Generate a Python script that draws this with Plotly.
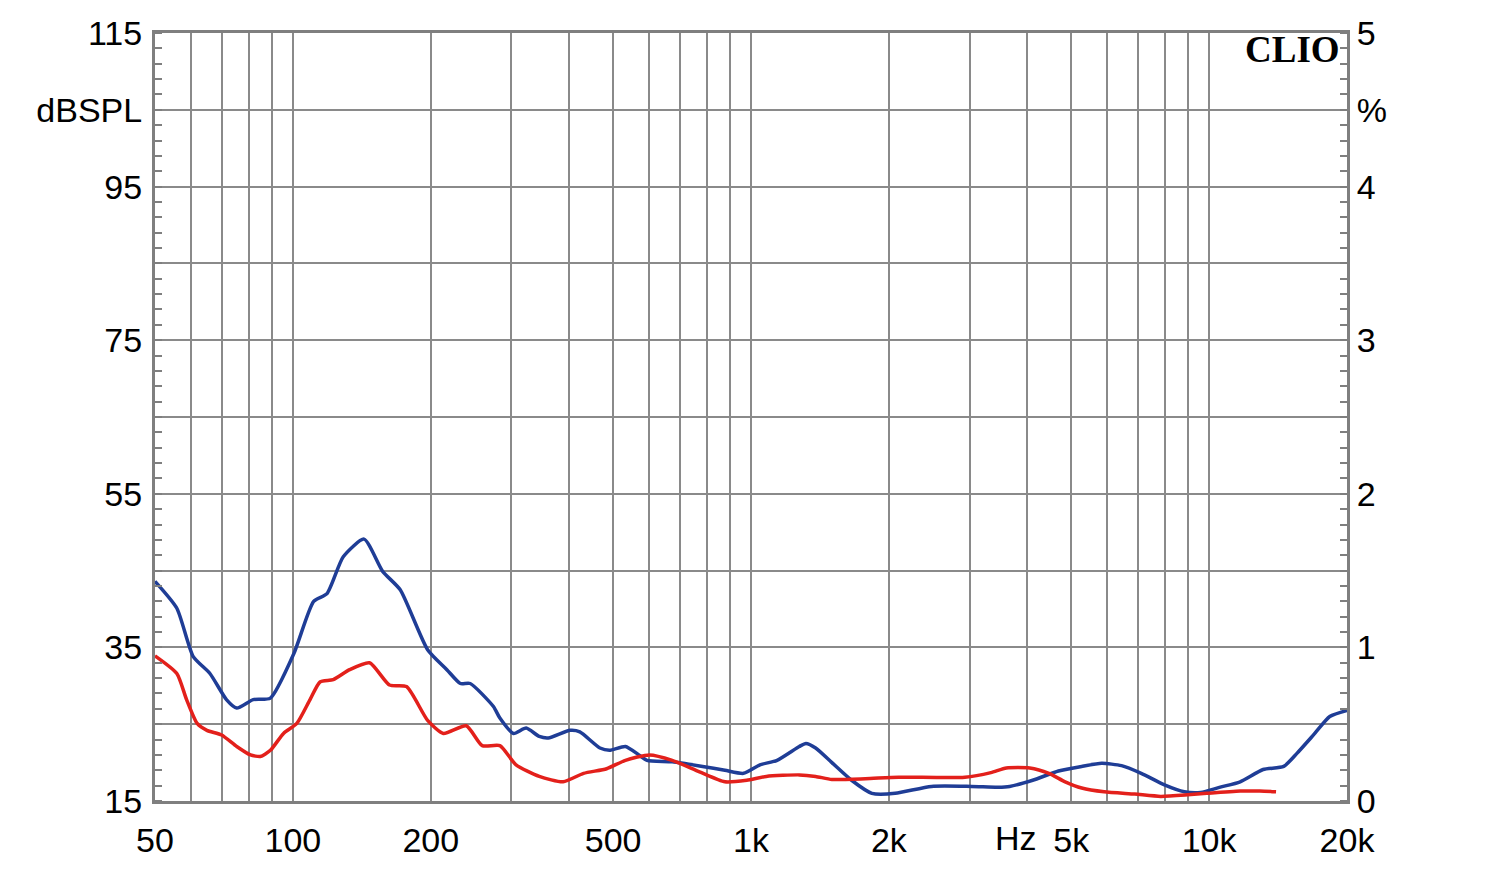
import math
import plotly.graph_objects as go

# ---- data ----
blue_f = [50, 55.8, 60.6, 65.9, 71.6, 75.4, 81.9, 89.3, 100.5, 111, 118.7, 128.8, 143, 157, 171.5,
          196.8, 216.8, 232, 243.8, 274, 283, 303, 323, 345, 361, 403, 423, 468, 491, 532, 569, 593,
          673, 784, 877, 963, 1046, 1140, 1275, 1318, 1384, 1502, 1658, 1836, 2064, 2477, 3028, 3460,
          3670, 4120, 4690, 5270, 5830, 6440, 7110, 7990, 8830, 9580, 10580, 11690, 13120, 14550,
          15550, 16900, 18340, 20000]
blue_v = [43.6, 40.1, 33.8, 31.6, 28.2, 27.1, 28.2, 28.4, 34.2, 41.0, 42.0, 46.8, 49.1, 44.9, 42.5,
          34.7, 32.1, 30.3, 30.3, 27.3, 25.8, 23.8, 24.5, 23.4, 23.2, 24.2, 24.0, 21.9, 21.6, 22.1, 21.0, 20.3,
          20.1, 19.5, 19.0, 18.6, 19.7, 20.3, 22.1, 22.5, 21.9, 20.0, 17.7, 16.0, 16.0, 16.9, 16.9, 16.8,
          16.9, 17.7, 18.9, 19.5, 19.9, 19.6, 18.6, 17.1, 16.2, 16.1, 16.8, 17.5, 19.1, 19.5,
          21.2, 23.6, 26.0, 26.8]

red_f = [50, 55.8, 58.6, 61.8, 64.9, 69.9, 75.4, 80.8, 84.9, 89.3, 95.4, 102, 109, 114.6, 122.5, 133,
         147, 162.5, 177, 196.8, 213, 239, 259, 283, 307, 345, 389, 431, 484, 532, 600, 673, 772, 877,
         979, 1080, 1275, 1384, 1502, 1777, 2100, 2930, 3340, 3610, 4060, 4470, 4850, 5270, 5900, 6880,
         7840, 8980, 9880, 11690, 12900, 14000]
red_v = [33.9, 31.6, 28.2, 25.1, 24.2, 23.6, 22.1, 21.0, 20.8, 21.6, 23.8, 25.1, 28.2, 30.5, 30.8, 32.1,
         33.0, 30.1, 29.9, 25.5, 23.8, 24.8, 22.2, 22.2, 19.7, 18.2, 17.5, 18.6, 19.2, 20.3, 21.0, 20.3, 18.8, 17.5,
         17.7, 18.2, 18.4, 18.2, 17.8, 17.9, 18.1, 18.1, 18.7, 19.3, 19.3, 18.6, 17.5, 16.7, 16.2, 15.9,
         15.6, 15.8, 16.0, 16.3, 16.3, 16.2]

x_grid = [50, 60, 70, 80, 90, 100, 200, 300, 400, 500, 600, 700, 800, 900, 1000,
          2000, 3000, 4000, 5000, 6000, 7000, 8000, 9000, 10000, 20000]
x_labels = {50: "50", 100: "100", 200: "200", 500: "500", 1000: "1k", 2000: "2k",
            5000: "5k", 10000: "10k", 20000: "20k"}
y_grid = [15, 25, 35, 45, 55, 65, 75, 85, 95, 105, 115]
y_labels = {15: "15", 35: "35", 55: "55", 75: "75", 95: "95", 105: "dBSPL", 115: "115"}
y2_ticks = [0, 1, 2, 3, 4, 4.5, 5]
y2_text = ["0", "1", "2", "3", "4", "%", "5"]
hz_pos = 3790

GRID = "#8a8a8a"
FRAME = "#7f7f7f"
FONT = dict(family="Liberation Sans, Arial, sans-serif", size=34, color="black")

fig = go.Figure()
fig.add_trace(go.Scatter(x=blue_f, y=blue_v, mode="lines", hoverinfo="skip",
                         line=dict(color="#1f3d96", width=3.5, shape="spline", smoothing=0.6)))
fig.add_trace(go.Scatter(x=red_f, y=red_v, mode="lines", hoverinfo="skip",
                         line=dict(color="#e3201b", width=3.5, shape="spline", smoothing=0.6)))
fig.add_trace(go.Scatter(x=[1000], y=[0], yaxis="y2", mode="markers",
                         marker=dict(opacity=0), hoverinfo="skip"))

fig.update_layout(
    width=1500, height=872, autosize=False,
    margin=dict(l=155, r=153, t=33, b=71, pad=0),
    paper_bgcolor="white", plot_bgcolor="white",
    showlegend=False, font=FONT,
    xaxis=dict(type="log", range=[math.log10(50), math.log10(20000)],
               tickmode="array", tickvals=x_grid,
               ticktext=[x_labels.get(v, "") for v in x_grid],
               showgrid=True, gridcolor=GRID, gridwidth=1.5,
               showline=True, linecolor=FRAME, linewidth=3, mirror=True,
               ticks="", zeroline=False, tickfont=FONT, ticklabelstandoff=7),
    yaxis=dict(range=[15, 115], tickmode="array", tickvals=y_grid,
               ticktext=[y_labels.get(v, "") for v in y_grid],
               showgrid=True, gridcolor=GRID, gridwidth=1.5,
               showline=True, linecolor=FRAME, linewidth=3, zeroline=False,
               ticks="", tickfont=FONT, ticklabelstandoff=3,
               minor=dict(dtick=2, tick0=15, ticks="inside", ticklen=7,
                          tickcolor=FRAME, tickwidth=1.5, showgrid=False)),
    yaxis2=dict(range=[0, 5], overlaying="y", side="right", tickmode="array",
                tickvals=y2_ticks, ticktext=y2_text, showgrid=False,
                showline=True, linecolor=FRAME, linewidth=3, zeroline=False,
                ticks="", tickfont=FONT, ticklabelstandoff=0,
                minor=dict(dtick=0.1, tick0=0, ticks="inside", ticklen=7,
                           tickcolor=FRAME, tickwidth=1.5, showgrid=False)),
)

fig.add_annotation(text="<b>CLIO</b>", xref="paper", yref="paper", x=1, y=1,
                   xanchor="right", yanchor="top", xshift=-5, yshift=6, showarrow=False,
                   font=dict(family="Liberation Serif, Times New Roman, serif", size=37, color="black"))
fig.add_annotation(text="Hz", xref="x", yref="paper", x=math.log10(hz_pos), y=0,
                   xanchor="center", yanchor="middle", yshift=-37, showarrow=False, font=FONT)

fig.write_html("out.html")
